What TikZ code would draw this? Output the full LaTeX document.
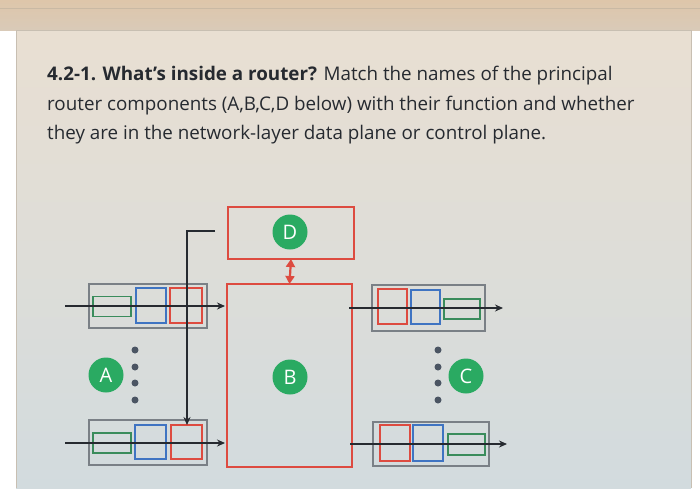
\documentclass[tikz,border=0pt]{standalone}
\usepackage{fontspec}
\setmainfont{Open Sans}
\usetikzlibrary{arrows.meta}
\definecolor{rred}{HTML}{DD4B40}
\definecolor{bblue}{HTML}{3F74C2}
\definecolor{ggreen}{HTML}{3A8C5C}
\definecolor{ggray}{HTML}{7A8086}
\definecolor{circ}{HTML}{2AAA62}
\definecolor{dotc}{HTML}{4B5563}
\definecolor{ink}{HTML}{262A30}
\definecolor{bgA}{HTML}{DEC6AA}
\definecolor{bgB}{HTML}{D9CAB8}
\definecolor{bgL}{HTML}{C9B9A4}
\definecolor{cardA}{HTML}{E9DFD2}
\definecolor{cardB}{HTML}{D2DBDE}
\definecolor{cardE}{HTML}{C8BFB2}
\begin{document}
\begin{tikzpicture}[x=1pt,y=-1pt,
  rbox/.style={draw=#1, line width=1.5pt, anchor=north west, inner sep=0pt, outer sep=0pt},
  pbox/.style={draw=ggray, line width=1.1pt, anchor=north west, inner sep=0pt, outer sep=0pt},
  lbl/.style={circle, fill=circ, text=white, minimum size=35pt, inner sep=0pt, font=\fontsize{20}{20}\selectfont},
  dotn/.style={circle, fill=dotc, minimum size=7pt, inner sep=0pt},
  flow/.style={draw=ink, line width=1.2pt, -{Stealth[length=8pt,width=7pt]}},
  txt/.style={anchor=base west, inner sep=0pt, text=ink, font=\fontsize{18.8}{18.8}\selectfont}]
\useasboundingbox (0,0) rectangle (700,488);
\fill[top color=bgA, bottom color=bgB] (0,0) rectangle (700,30);
\draw[bgL, line width=0.8pt] (0,8) -- (700,8);
\fill[top color=cardA, bottom color=cardB] (16,30) rectangle (691,488);
\draw[cardE, line width=0.8pt] (16,488) -- (16,30) -- (691,30) -- (691,488);

% text
\node[txt] (t1) at (47,80) {\textbf{4.2-1. What's inside a router?} Match the names of the principal};
\node[txt] (t2) at (47,110) {router components (A,B,C,D below) with their function and whether};
\node[txt] (t3) at (47,139) {they are in the network-layer data plane or control plane.};

% D and B
\node[rbox=rred, minimum width=126pt, minimum height=52pt] (D) at (228,207) {};
\node[rbox=rred, minimum width=125pt, minimum height=183pt] (B) at (227,284) {};
\node[lbl] (Dl) at (290,232) {D};
\node[lbl] (Bl) at (290,377) {B};
\draw[rred, line width=2.2pt, {Triangle[length=8pt,width=9pt]}-{Triangle[length=8pt,width=9pt]}] (D.south) -- (B.north);

% left top port
\node[pbox, minimum width=118pt, minimum height=44pt] (LT) at (89,284) {};
\node[rbox=ggreen, line width=1.3pt, minimum width=38pt, minimum height=20pt] (LTg) at (93,296.5) {};
\node[rbox=bblue, line width=1.3pt, minimum width=30pt, minimum height=35pt] (LTb) at (136,288) {};
\node[rbox=rred, line width=1.3pt, minimum width=32pt, minimum height=35pt] (LTr) at (170,288) {};
% left bottom port
\node[pbox, minimum width=118pt, minimum height=45pt] (LB) at (89,420) {};
\node[rbox=ggreen, line width=1.3pt, minimum width=38pt, minimum height=20pt] (LBg) at (93,433) {};
\node[rbox=bblue, line width=1.3pt, minimum width=31pt, minimum height=34pt] (LBb) at (135,425) {};
\node[rbox=rred, line width=1.3pt, minimum width=31pt, minimum height=34pt] (LBr) at (171,425) {};
% right top port
\node[pbox, minimum width=113pt, minimum height=46pt] (RT) at (372,285) {};
\node[rbox=rred, line width=1.3pt, minimum width=29pt, minimum height=35pt] (RTr) at (378,289) {};
\node[rbox=bblue, line width=1.3pt, minimum width=29pt, minimum height=34pt] (RTb) at (411,290) {};
\node[rbox=ggreen, line width=1.3pt, minimum width=36pt, minimum height=20pt] (RTg) at (444,299) {};
% right bottom port
\node[pbox, minimum width=116pt, minimum height=44pt] (RB) at (373,422) {};
\node[rbox=rred, line width=1.3pt, minimum width=30pt, minimum height=36pt] (RBr) at (380,425) {};
\node[rbox=bblue, line width=1.3pt, minimum width=30pt, minimum height=36pt] (RBb) at (413,425) {};
\node[rbox=ggreen, line width=1.3pt, minimum width=37pt, minimum height=21pt] (RBg) at (448,434) {};

% flows
\coordinate (a1) at (65,306); \coordinate (a2) at (225,306);
\coordinate (b1) at (65,443); \coordinate (b2) at (225,443);
\coordinate (c1) at (349,308); \coordinate (c2) at (503,308);
\coordinate (d1) at (350,444); \coordinate (d2) at (507,444);
\draw[flow] (a1) -- (a2);
\draw[flow] (b1) -- (b2);
\draw[flow] (c1) -- (c2);
\draw[flow] (d1) -- (d2);
\coordinate (v0) at (215,231);
\coordinate (vt) at (187,231);
\draw[flow] (v0) -- (vt) -- (vt |- LBr.north);

% A and C with dots
\node[lbl] (Al) at (106,375) {A};
\node[lbl] (Cl) at (466,376) {C};
\foreach \i/\y in {1/350,2/367,3/383,4/400}{
  \node[dotn] (la\i) at (135,\y) {};
  \node[dotn] (rc\i) at (438,\y) {};
}
\end{tikzpicture}
\end{document}
